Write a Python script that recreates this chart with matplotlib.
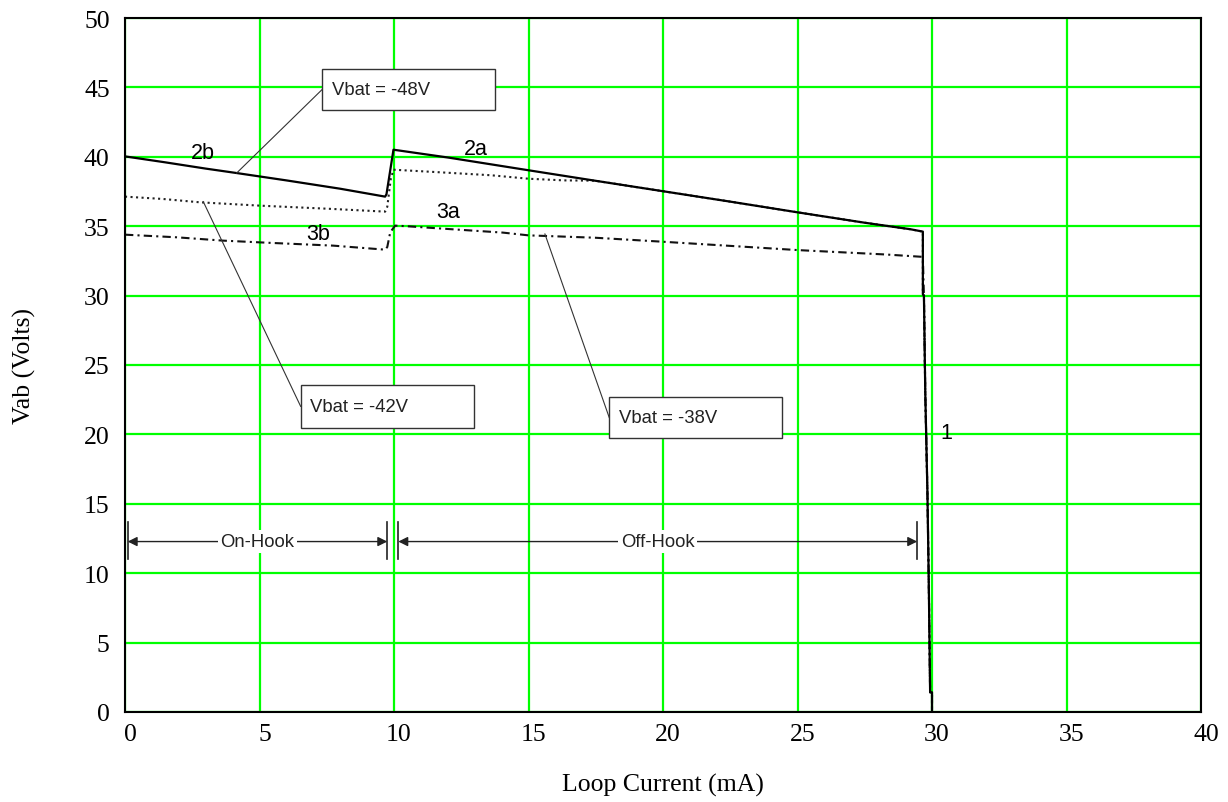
import matplotlib
matplotlib.use("Agg")
import matplotlib.pyplot as plt
import matplotlib.transforms as mtransforms

# Vbat = -48V (solid), curve 2b then 2a then drop (1)
i_48 = [0, 1.5, 3.0, 4.15, 6.0, 8.0, 9.67, 9.72, 9.85, 9.98, 10.2,
        12.0, 15.0, 17.5, 20.0, 22.5, 25.0, 27.5, 29.2, 29.66,
        29.66, 29.70, 29.75, 29.83, 29.88, 29.93, 30.0, 30.0]
v_48 = [40.03, 39.6, 39.15, 38.83, 38.3, 37.7, 37.13, 37.3, 38.9, 40.51, 40.45,
        39.95, 39.03, 38.27, 37.52, 36.77, 36.0, 35.25, 34.78, 34.61,
        30.1, 30.0, 23.0, 15.8, 9.35, 1.42, 1.42, 0.0]

# Vbat = -42V (dotted)
i_42 = [0, 1.42, 2.79, 5.02, 7.74, 9.67, 9.75, 9.88, 9.98, 11.47, 13.61,
        15.0, 16.33, 17.47, 20.0, 22.5, 25.0, 27.5, 29.2, 29.66,
        29.66, 29.70, 29.75, 29.83, 29.88, 29.93, 30.0, 30.0]
v_42 = [37.13, 36.96, 36.72, 36.48, 36.24, 36.05, 36.4, 38.4, 39.07, 38.91, 38.67,
        38.42, 38.3, 38.28, 37.52, 36.77, 36.0, 35.25, 34.78, 34.61,
        30.1, 30.0, 23.0, 15.8, 9.35, 1.42, 1.42, 0.0]

# Vbat = -38V (dash-dot)
i_38 = [0, 1.92, 3.65, 5.51, 7.74, 9.67, 9.75, 9.86, 10.04, 10.47, 11.61,
        14.04, 15.0, 17.47, 20.0, 22.6, 25.0, 28.3, 29.66,
        29.70, 29.75, 29.83, 29.88, 29.93, 30.0, 30.0]
v_38 = [34.39, 34.2, 33.96, 33.79, 33.6, 33.31, 33.5, 34.56, 35.04, 35.0, 34.85,
        34.54, 34.34, 34.17, 33.88, 33.57, 33.28, 32.96, 32.79,
        30.0, 23.0, 15.8, 9.35, 1.42, 1.42, 0.0]

x_ticks = [0, 5, 10, 15, 20, 25, 30, 35, 40]
y_ticks = [0, 5, 10, 15, 20, 25, 30, 35, 40, 45, 50]

curve_labels = ["2b", "2a", "3a", "3b", "1"]
curve_label_pos = [(2.91, 40.32), (13.04, 40.61), (12.02, 36.05), (7.19, 34.44), (30.52, 20.15)]

box_texts = ["Vbat = -48V", "Vbat = -42V", "Vbat = -38V"]
box_x = [(7.33, 13.76), (6.53, 12.97), (18.0, 24.43)]
box_y = [(43.35, 46.35), (20.48, 23.56), (19.72, 22.72)]
leader_from = [(4.15, 38.83), (2.91, 36.77), (15.61, 34.44)]

serif = "Liberation Serif"
sans = "Liberation Sans"

fig = plt.figure(figsize=(12.28, 8.03), dpi=100)
ax = fig.add_axes([125 / 1228, 90 / 803, 1076 / 1228, 694 / 803])

ax.set_xlim(0, 40)
ax.set_ylim(0, 50)
ax.set_xticks(x_ticks)
ax.set_yticks(y_ticks)
ax.grid(True, color="#00ff00", lw=1.6, zorder=0)
ax.set_axisbelow(True)
ax.tick_params(length=0, labelsize=18.5)
ax.tick_params(axis="x", pad=8)
ax.tick_params(axis="y", pad=11)
for lab in ax.get_xticklabels() + ax.get_yticklabels():
    lab.set_fontfamily(serif)
offset = mtransforms.ScaledTranslation(5 / 100, 0, fig.dpi_scale_trans)
for lab in ax.get_xticklabels():
    lab.set_transform(lab.get_transform() + offset)
for sp in ax.spines.values():
    sp.set_linewidth(1.5)
    sp.set_zorder(5)

ax.plot(i_42, v_42, color="#222222", lw=1.5, ls=":", zorder=3)
ax.plot(i_38, v_38, color="#111111", lw=1.5, ls=(0, (4, 2, 1, 2)), zorder=3)
ax.plot(i_48, v_48, color="black", lw=1.6, zorder=4)

for txt, (x, y) in zip(curve_labels, curve_label_pos):
    ax.text(x, y, txt, fontsize=15.5, family=sans, ha="center", va="center", zorder=6)

for txt, (x0, x1), (y0, y1), (lx, ly) in zip(box_texts, box_x, box_y, leader_from):
    ax.add_patch(plt.Rectangle((x0, y0), x1 - x0, y1 - y0, facecolor="white",
                               edgecolor="#333333", lw=1.0, zorder=6))
    ax.text(x0 + 0.35, (y0 + y1) / 2, txt, fontsize=13.3, family=sans,
            ha="left", va="center", color="#222222", zorder=7)
    ax.plot([lx, x0], [ly, (y0 + y1) / 2], color="#333333", lw=0.8, zorder=6)

# On-Hook / Off-Hook ranges
hook_names = ["On-Hook", "Off-Hook"]
hook_span = [(0.1, 9.75), (10.16, 29.45)]
hook_y = 12.28
for name, (a, b) in zip(hook_names, hook_span):
    ax.annotate("", xy=(a, hook_y), xytext=(b, hook_y),
                arrowprops=dict(arrowstyle="<|-|>", color="#222222", lw=1.0,
                                shrinkA=0, shrinkB=0, mutation_scale=14),
                zorder=6)
    ax.plot([a, a], [11.02, 13.69], color="#222222", lw=1.2, zorder=6)
    ax.plot([b, b], [11.02, 13.69], color="#222222", lw=1.2, zorder=6)
    ax.text((a + b) / 2, hook_y, name,
            fontsize=13.3, family=sans, ha="center", va="center", color="#222222",
            bbox=dict(facecolor="white", edgecolor="none", pad=2), zorder=7)

ax.set_xlabel("Loop Current (mA)", family=serif, fontsize=18.5)
ax.set_ylabel("Vab (Volts)", family=serif, fontsize=18.5)
ax.xaxis.set_label_coords(0.5, -0.088)
ax.yaxis.set_label_coords(-0.083, 0.5)

fig.savefig("out.png", dpi=100)
